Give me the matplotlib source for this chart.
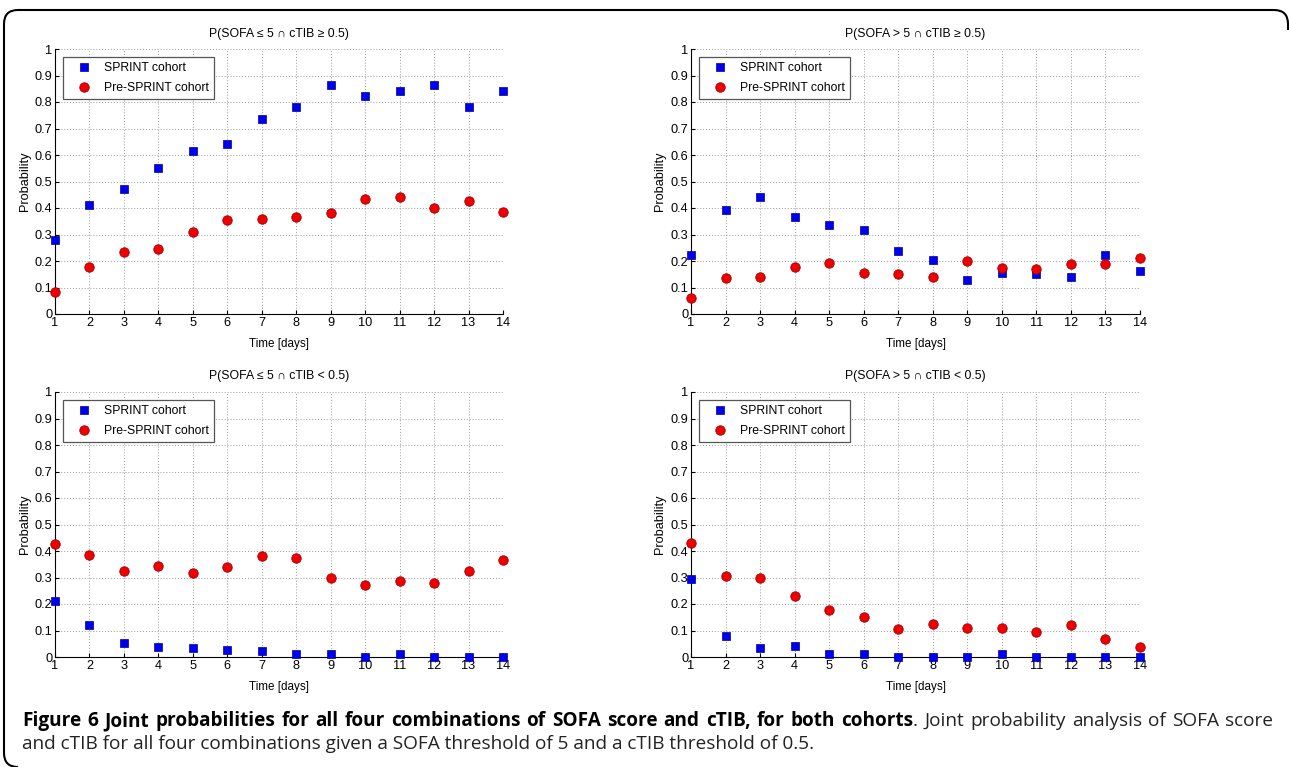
import matplotlib
matplotlib.use("Agg")
import matplotlib.pyplot as plt
from matplotlib.patches import PathPatch
from matplotlib.path import Path
from matplotlib.transforms import IdentityTransform

plt.rcParams['font.family'] = ['Liberation Sans', 'DejaVu Sans']

# ---------------- data ----------------
days = [1, 2, 3, 4, 5, 6, 7, 8, 9, 10, 11, 12, 13, 14]
ytick_vals = [0, 0.1, 0.2, 0.3, 0.4, 0.5, 0.6, 0.7, 0.8, 0.9, 1]
ytick_labels = ['0', '0.1', '0.2', '0.3', '0.4', '0.5', '0.6', '0.7', '0.8', '0.9', '1']

titles = ['P(SOFA ≤ 5 ∩ cTIB ≥ 0.5)', 'P(SOFA > 5 ∩ cTIB ≥ 0.5)',
          'P(SOFA ≤ 5 ∩ cTIB < 0.5)', 'P(SOFA > 5 ∩ cTIB < 0.5)']
series_names = ['SPRINT cohort', 'Pre-SPRINT cohort']

sprint_p1 = [0.280, 0.413, 0.472, 0.552, 0.616, 0.640, 0.737, 0.782, 0.863, 0.822, 0.840, 0.863, 0.782, 0.840]
pre_p1 = [0.084, 0.176, 0.234, 0.244, 0.310, 0.356, 0.359, 0.365, 0.383, 0.435, 0.441, 0.399, 0.427, 0.385]
sprint_p2 = [0.222, 0.392, 0.441, 0.365, 0.335, 0.316, 0.238, 0.203, 0.130, 0.154, 0.150, 0.141, 0.222, 0.164]
pre_p2 = [0.062, 0.135, 0.141, 0.176, 0.191, 0.156, 0.152, 0.141, 0.199, 0.175, 0.169, 0.189, 0.189, 0.212]
sprint_p3 = [0.210, 0.119, 0.053, 0.036, 0.033, 0.026, 0.024, 0.011, 0.013, 0.0, 0.013, 0.0, 0.0, 0.0]
pre_p3 = [0.428, 0.384, 0.323, 0.343, 0.317, 0.341, 0.380, 0.372, 0.299, 0.270, 0.286, 0.279, 0.323, 0.366]
sprint_p4 = [0.293, 0.079, 0.033, 0.042, 0.013, 0.013, 0.0, 0.0, 0.0, 0.013, 0.0, 0.0, 0.0, 0.0]
pre_p4 = [0.431, 0.306, 0.297, 0.230, 0.179, 0.150, 0.106, 0.123, 0.109, 0.109, 0.094, 0.119, 0.068, 0.039]

caption_bold = "Figure 6 Joint probabilities for all four combinations of SOFA score and cTIB, for both cohorts"
caption_rest = ". Joint probability analysis of SOFA score"
caption_line2 = "and cTIB for all four combinations given a SOFA threshold of 5 and a cTIB threshold of 0.5."

# ---------------- figure ----------------
W, H = 1289, 767
fig = plt.figure(figsize=(W / 100, H / 100), dpi=100)
fig.patch.set_facecolor('white')

# axes boxes in pixels (left, top, right, bottom)
boxes = [(55, 49, 503, 314), (691, 49, 1140, 314),
         (55, 392, 503, 657), (691, 392, 1140, 657)]
sprint_all = [sprint_p1, sprint_p2, sprint_p3, sprint_p4]
pre_all = [pre_p1, pre_p2, pre_p3, pre_p4]

for i, (l, t, r, b) in enumerate(boxes):
    ax = fig.add_axes([l / W, 1 - b / H, (r - l) / W, (b - t) / H])
    ax.set_axisbelow(True)
    ax.plot(days, sprint_all[i], linestyle='none', marker='s', markersize=5.3,
            markerfacecolor='#0000f0', markeredgecolor='#00008c', markeredgewidth=0.5,
            clip_on=False, zorder=3, label=series_names[0])
    ax.plot(days, pre_all[i], linestyle='none', marker='o', markersize=6.8,
            markerfacecolor='#f00000', markeredgecolor='#a00000', markeredgewidth=0.6,
            clip_on=False, zorder=4, label=series_names[1])
    ax.set_xlim(1, 14)
    ax.set_ylim(0, 1)
    ax.set_xticks(days)
    ax.set_xticklabels([str(d) for d in days])
    ax.set_yticks(ytick_vals)
    ax.set_yticklabels(ytick_labels)
    ax.grid(True, linestyle=(0, (1, 2)), color='#9a9a9a', linewidth=0.7)
    for s in ['top', 'right']:
        ax.spines[s].set_visible(False)
    for s in ['left', 'bottom']:
        ax.spines[s].set_linewidth(0.8)
        ax.spines[s].set_color('black')
    ax.tick_params(direction='in', length=3, width=0.8, labelsize=9.2, pad=2,
                   top=False, right=False, colors='black')
    ax.set_title(titles[i], fontsize=8.8, pad=9)
    ax.set_xlabel('Time [days]', fontsize=8.4, va='center')
    ax.xaxis.set_label_coords(0.5, -30 / 265)
    ax.set_ylabel('Probability', fontsize=9.2, va='center')
    ax.yaxis.set_label_coords(-0.068, 0.5)
    leg = ax.legend(loc='upper left', bbox_to_anchor=(0.018, 0.970), borderaxespad=0,
                    fontsize=8.8, frameon=True, fancybox=False, framealpha=1,
                    edgecolor='#555555', handlelength=2.6, handletextpad=0.3,
                    borderpad=0.45, labelspacing=0.6, numpoints=1)
    leg.get_frame().set_linewidth(0.9)

# ---------------- border (open rounded frame) ----------------
def P(x, y):
    return (x, H - y)

verts = [P(18, 767), P(4, 767), P(4, 753),          # bottom-left corner
         P(4, 24),                                   # left edge
         P(4, 10), P(18, 10),                        # top-left corner
         P(1274, 10),                                # top edge
         P(1288, 10), P(1288, 24),                   # top-right corner
         P(1288, 30)]
codes = [Path.MOVETO, Path.CURVE3, Path.CURVE3,
         Path.LINETO,
         Path.CURVE3, Path.CURVE3,
         Path.LINETO,
         Path.CURVE3, Path.CURVE3,
         Path.LINETO]
border = PathPatch(Path(verts, codes), transform=IdentityTransform(), facecolor='none',
                   edgecolor='black', linewidth=1.5, zorder=10)
fig.add_artist(border)

# ---------------- caption ----------------
renderer = fig.canvas.get_renderer()
cap_family = ['Open Sans', 'DejaVu Sans']
x_left = 22
target2 = 790.0
y1 = 1 - 726 / H
y2 = 1 - 749 / H

probe = fig.text(0, 0, caption_line2, fontsize=12, family=cap_family)
w = probe.get_window_extent(renderer).width
probe.remove()
fs = 12 * target2 / w

fig.text(x_left / W, y2, caption_line2, fontsize=fs, family=cap_family,
         color='#222222', va='baseline', ha='left')

# line 1 justified
words = []
bw = caption_bold.split(' ')
for k, wd in enumerate(bw):
    if k == len(bw) - 1:
        words.append([(wd, 'bold'), ('.', 'normal')])
    else:
        words.append([(wd, 'bold')])
for wd in caption_rest[1:].split():
    words.append([(wd, 'normal')])

seg_widths = []
for word in words:
    ws = []
    for txt, wt in word:
        tt = fig.text(0, 0, txt, fontsize=fs, family=cap_family, weight=wt)
        ws.append(tt.get_window_extent(renderer).width)
        tt.remove()
    seg_widths.append(ws)

total = sum(sum(ws) for ws in seg_widths)
line_w = 1273 - x_left
gap = (line_w - total) / (len(words) - 1)
x = x_left
for word, ws in zip(words, seg_widths):
    xx = x
    for (txt, wt), sw in zip(word, ws):
        col = 'black' if wt == 'bold' else '#222222'
        fig.text(xx / W, y1, txt, fontsize=fs, family=cap_family, weight=wt,
                 color=col, va='baseline', ha='left')
        xx += sw
    x = xx + gap

fig.savefig('out.png', dpi=100, facecolor='white')
